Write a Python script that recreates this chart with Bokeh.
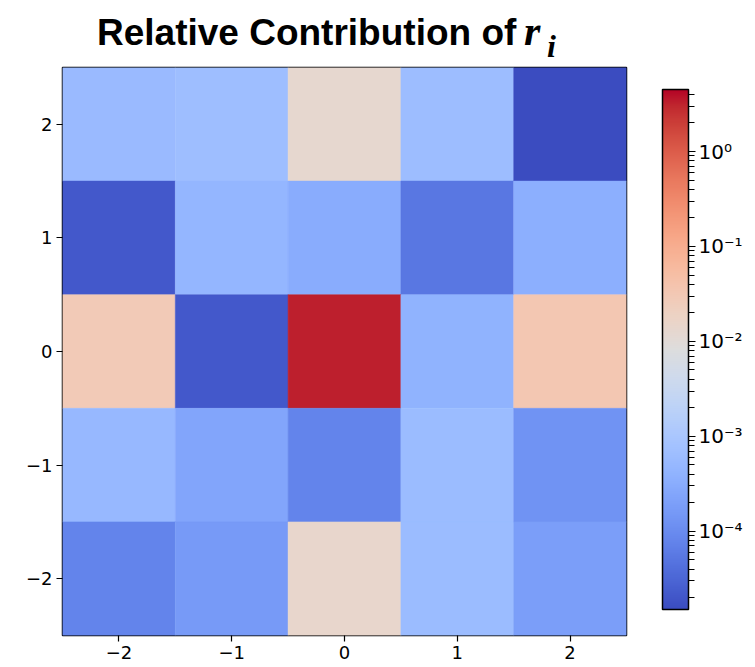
import numpy as np
from bokeh.plotting import figure
from bokeh.layouts import column
from bokeh.models import (ColumnDataSource, LogColorMapper, ColorBar, FixedTicker,
                          CustomJSTickFormatter, Div)
from bokeh.embed import file_html
from bokeh.resources import INLINE

# ---------------- data ----------------
x_values = [-2, -1, 0, 1, 2]
y_values = [2, 1, 0, -1, -2]          # rows top to bottom
row_y_2 = [5.7e-4, 6.4e-4, 1.28e-2, 6.2e-4, 1.5e-5]
row_y_1 = [2.2e-5, 4.5e-4, 3.1e-4, 5.3e-5, 3.5e-4]
row_y_0 = [2.9e-2, 2.2e-5, 3.3, 4.0e-4, 3.3e-2]
row_y_m1 = [5.1e-4, 2.4e-4, 7.8e-5, 5.8e-4, 1.3e-4]
row_y_m2 = [7.8e-5, 1.66e-4, 1.46e-2, 5.8e-4, 1.9e-4]
rows = [row_y_2, row_y_1, row_y_0, row_y_m1, row_y_m2]
color_low, color_high = 1.5e-5, 4.5
axis_ticks = [-2, -1, 0, 1, 2]
axis_tick_labels = ["\u22122", "\u22121", "0", "1", "2"]
cbar_major = [1e-4, 1e-3, 1e-2, 1e-1, 1.0]
cbar_minor = [m * 10.0 ** e for e in range(-5, 1) for m in range(2, 10)]
title_main = "Relative Contribution of"
title_var = "r"
title_sub = "i"

# ---------------- coolwarm palette ----------------
cw = [(59,76,192),(68,90,204),(77,104,215),(87,117,225),(98,130,234),(108,142,241),
      (119,154,247),(130,165,251),(141,176,254),(152,185,255),(163,194,255),(174,201,253),
      (184,208,249),(194,213,244),(204,217,238),(213,219,230),(221,221,221),(229,216,209),
      (236,211,197),(241,204,185),(245,196,173),(247,187,160),(247,177,148),(247,166,135),
      (244,154,123),(241,141,111),(236,127,99),(229,112,88),(222,96,77),(213,80,66),
      (203,62,56),(192,40,47),(180,4,38)]
cw = np.array(cw, dtype=float)
pos = np.linspace(0, 1, len(cw))
t = np.linspace(0, 1, 256)
palette = ["#%02x%02x%02x" % tuple(int(round(np.interp(v, pos, cw[:, k]))) for k in range(3)) for v in t]

mapper = LogColorMapper(palette=palette, low=color_low, high=color_high)

xs, ys, vs = [], [], []
for yv, row in zip(y_values, rows):
    for xv, val in zip(x_values, row):
        xs.append(xv); ys.append(yv); vs.append(val)
src = ColumnDataSource(dict(x=xs, y=ys, v=vs))

p = figure(width=755, height=605, x_range=(-2.5, 2.5), y_range=(-2.5, 2.5),
           min_border_left=62, min_border_right=127, min_border_top=5, min_border_bottom=32,
           output_backend="svg", toolbar_location=None)
p.rect(x="x", y="y", width=1, height=1, source=src,
       fill_color={"field": "v", "transform": mapper},
       line_color={"field": "v", "transform": mapper}, line_width=0.5)

p.grid.visible = False
p.outline_line_color = "black"
p.outline_line_width = 1.5
p.background_fill_color = "white"
p.border_fill_color = "white"

overrides = {tk: lb for tk, lb in zip(axis_ticks, axis_tick_labels)}
for ax in (p.xaxis[0], p.yaxis[0]):
    ax.ticker = FixedTicker(ticks=axis_ticks)
    ax.major_label_overrides = overrides
    ax.axis_line_color = None
    ax.major_tick_in = 0
    ax.major_tick_out = 6
    ax.major_tick_line_color = "black"
    ax.major_tick_line_width = 1.2
    ax.minor_tick_line_color = None
    ax.major_label_text_font = "DejaVu Sans"
    ax.major_label_text_font_size = "18px"
    ax.major_label_text_color = "black"
    ax.major_label_standoff = 4

fmt = CustomJSTickFormatter(code="""
const sup = {'-':'\u207b','0':'\u2070','1':'\u00b9','2':'\u00b2','3':'\u00b3','4':'\u2074','5':'\u2075'};
const e = Math.round(Math.log10(tick));
return '10' + String(e).split('').map(c => sup[c]).join('');
""")

cb = ColorBar(color_mapper=mapper, ticker=FixedTicker(ticks=cbar_major, minor_ticks=cbar_minor),
              formatter=fmt, width=26, height=520, location=(26, 16),
              margin=0, padding=10,
              bar_line_color="black", bar_line_width=1.5,
              major_tick_in=0, major_tick_out=7, major_tick_line_color="black", major_tick_line_width=1.2,
              minor_tick_in=0, minor_tick_out=6, minor_tick_line_color="black", minor_tick_line_width=1.0,
              major_label_text_font="DejaVu Sans", major_label_text_font_size="20px",
              major_label_text_color="black", label_standoff=3,
              background_fill_color=None, border_line_color=None)
p.add_layout(cb, "right")

title_html = (
    '<div style="position:relative;width:755px;height:62px;background:white;">'
    '<span style="position:absolute;left:97px;top:14px;white-space:nowrap;'
    "font-family:'Liberation Sans',Arial,sans-serif;font-weight:bold;font-size:37px;line-height:1;color:black;\">"
    + title_main + '</span>'
    '<span style="position:absolute;left:524px;top:10px;'
    "font-family:'Liberation Serif',serif;font-weight:bold;font-style:italic;font-size:42px;line-height:1;color:black;\">"
    + title_var + '</span>'
    '<span style="position:absolute;left:547px;top:30px;'
    "font-family:'Liberation Serif',serif;font-weight:bold;font-style:italic;font-size:32px;line-height:1;color:black;\">"
    + title_sub + '</span>'
    '</div>'
)
title_div = Div(text=title_html, width=755, height=62, styles={"margin": "0", "padding": "0"})

layout = column(title_div, p, spacing=0)
open("out.html", "w").write(file_html(layout, INLINE))
